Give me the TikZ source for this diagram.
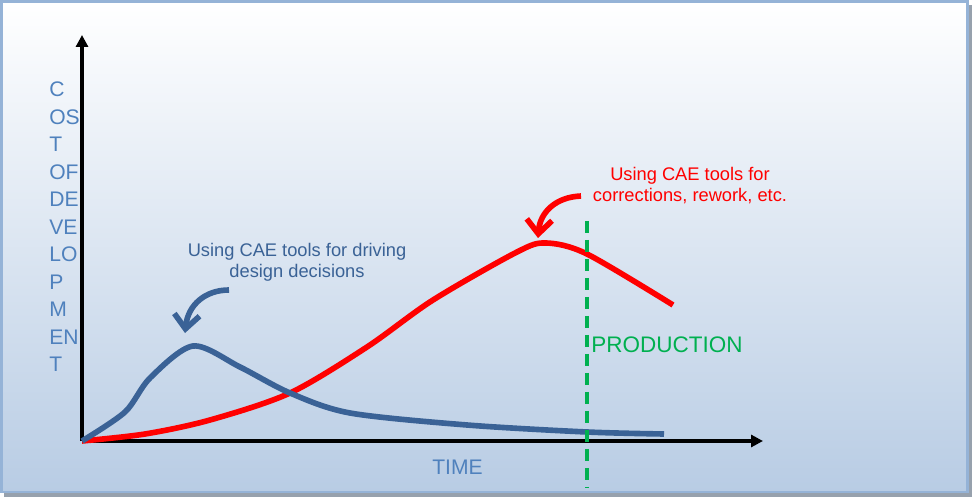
\documentclass[tikz,border=0pt]{standalone}
\usepackage{fontspec}
\setmainfont{Liberation Sans}
\usetikzlibrary{arrows.meta}
\definecolor{framebl}{HTML}{95B3D7}
\definecolor{shadebl}{HTML}{B8CCE4}
\definecolor{shadowgr}{HTML}{97A1AD}
\definecolor{labelbl}{HTML}{4F81BD}
\definecolor{curvebl}{RGB}{58,98,150}
\definecolor{prodgr}{HTML}{00B050}

\begin{document}
\begin{tikzpicture}[x=0.025cm, y=-0.025cm,
    axis/.style={line width=2.4pt, black, -{Triangle[length=8.5pt,width=8.5pt]}},
    curve/.style={line width=4pt, line join=round},
    bent/.style={line width=4pt, -{Straight Barb[length=10pt,width=18pt]}},
    axislabel/.style={inner sep=0pt, text=labelbl, font=\fontsize{15}{19}\selectfont},
    note/.style={align=center, inner sep=0pt, font=\fontsize{13}{15.5}\selectfont}]
\useasboundingbox (0,0) rectangle (973,498);
% frame and shadow
\fill [shadowgr] (4,5) rectangle (971.5,496.5);
\shade [top color=white, bottom color=shadebl, draw=framebl, line width=2.1pt] (1.5,1.5) rectangle (967.5,492);
% axes
\coordinate (o) at (82,441);
\coordinate (ytip) at (82,35);
\coordinate (xtip) at (763,441);
\draw [axis] (o) -- (ytip);
\draw [axis] (o) -- (xtip);
\foreach \w [count=\i] in {C,OS,T,OF,DE,VE,LO,P,M,EN,T} {
    \node[axislabel, anchor=base west] (cost\i) at (49,{97+27.47*(\i-1)}) {\w};
}
\node[axislabel, anchor=base west] (time) at (432,474) {TIME};
% cost of late corrections
\draw [curve, red] plot[smooth] coordinates {(82,441) (145,434) (210,420) (290,393) (367,347) (433,300) (517,252) (546,243) (587,254) (673,305)};
% cost of early analysis
\draw [curve, curvebl] plot[smooth] coordinates {(82,441) (125,412) (150,378) (193,346) (240,367) (290,393) (350,413) (467,425) (587,432) (664,434)};
% start of production
\coordinate (prodtop) at (587,221);
\coordinate (prodbot) at (587,487);
\draw [prodgr, line width=2.4pt, dash pattern=on 8.5pt off 5pt] (prodtop) -- (prodbot);
\node[axislabel, text=prodgr, font=\fontsize{16}{19}\selectfont, anchor=base west] (prod) at (591,353) {PRODUCTION};
% notes
\node[note, text=curvebl, anchor=base] (bluenote) at (297,278) {Using CAE tools for driving\\design decisions};
\node[note, text=red, anchor=base] (rednote) at (690,202) {Using CAE tools for\\corrections, rework, etc.};
\coordinate (bluefrom) at (229,290);
\coordinate (blueto) at (185,333);
\coordinate (redfrom) at (581,196);
\coordinate (redto) at (538,238);
\draw [bent, curvebl] (bluefrom) .. controls (205,290) and (188,305) .. (blueto);
\draw [bent, red] (redfrom) .. controls (556,197) and (540,212) .. (redto);
\end{tikzpicture}
\end{document}
